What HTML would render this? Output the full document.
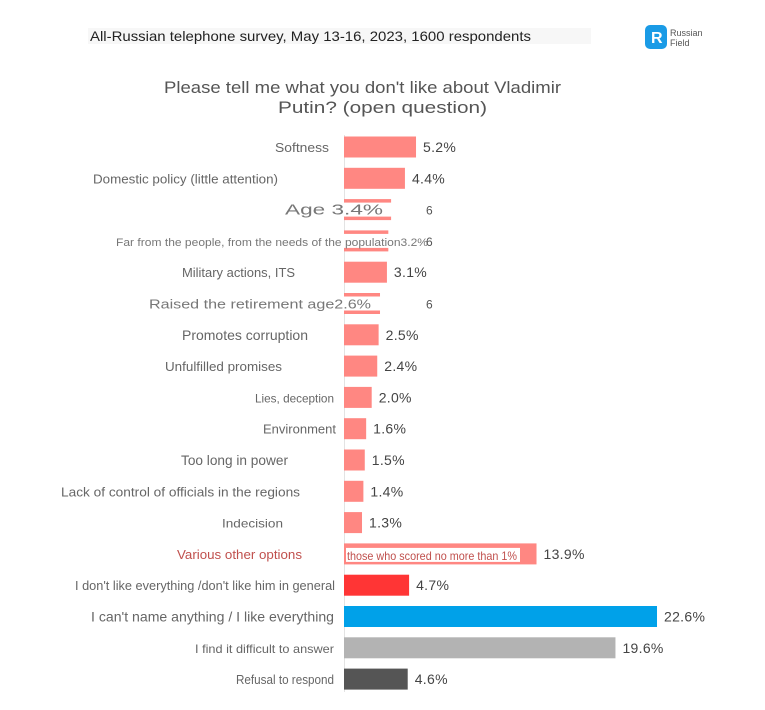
<!DOCTYPE html>
<html><head><meta charset="utf-8"><style>
body{margin:0;background:#fff;font-family:"Liberation Sans",sans-serif}
svg{display:block}
</style></head><body>
<svg id="c" width="765" height="710" font-family="Liberation Sans, sans-serif">
<rect x="88" y="28" width="503" height="16" fill="#f7f7f7"/>
<text x="90" y="41" font-size="14" textLength="441" lengthAdjust="spacingAndGlyphs" fill="#222">All-Russian telephone survey, May 13-16, 2023, 1600 respondents</text>
<g>
<rect x="645" y="25" width="22" height="24" rx="5" fill="#1a9be6"/>
<text x="651" y="43" font-size="16" font-weight="bold" fill="#fff">R</text>
<text x="670" y="36" font-size="9" fill="#555">Russian</text>
<text x="670" y="46" font-size="9" fill="#555">Field</text>
</g>
<text x="164" y="93" font-size="17" textLength="397" lengthAdjust="spacingAndGlyphs" fill="#555">Please tell me what you don't like about Vladimir</text>
<text x="278" y="113" font-size="17" textLength="209" lengthAdjust="spacingAndGlyphs" fill="#555">Putin? (open question)</text>
<line x1="344.5" y1="135" x2="344.5" y2="692" stroke="#e3e3e3"/>
<g id="bars"></g>
</svg>
<script>
const categories=["Softness","Domestic policy (little attention)","Age","Far from the people, from the needs of the population","Military actions, ITS","Raised the retirement age","Promotes corruption","Unfulfilled promises","Lies, deception","Environment","Too long in power","Lack of control of officials in the regions","Indecision","Various other options","I don't like everything /don't like him in general","I can't name anything / I like everything","I find it difficult to answer","Refusal to respond"];
const values=[5.2,4.4,3.4,3.2,3.1,2.6,2.5,2.4,2.0,1.6,1.5,1.4,1.3,13.9,4.7,22.6,19.6,4.6];
const colors=["#ff8782","#ff8782","#ff8782","#ff8782","#ff8782","#ff8782","#ff8782","#ff8782","#ff8782","#ff8782","#ff8782","#ff8782","#ff8782","#ff8782","#ff3535","#00a1e9","#b3b3b3","#555555"];
// label layout (start x, end x) — positions only
const labelStart=[275,93,285,116,182,149,182,165,255,263,181,61,222,177,75,91,195,236];
const labelEnd=[329,278,383,428,295,371,308,282,334,336,288,300,283,302,335,334,334,334];
const x0=344, pxPer=13.85, y0=147, step=31.3, bh=21;
const xs=v=>x0+v*pxPer, ys=i=>y0+i*step;
const g=document.getElementById('bars');
const NS="http://www.w3.org/2000/svg";
function mk(t,a){const e=document.createElementNS(NS,t);for(const k in a)e.setAttribute(k,a[k]);g.appendChild(e);return e;}
const special={2:1,3:1,5:1};
categories.forEach((c,i)=>{
  const y=ys(i), v=values[i];
  const r=mk('rect',{x:x0,y:y-bh/2,width:xs(v)-x0,height:bh,fill:colors[i]});
  
  
  const lx=labelStart[i], lw=labelEnd[i]-labelStart[i];
  if(special[i]){
    const w=mk('rect',{x:x0,y:y-7,width:xs(v)-x0+2,height:14,fill:'#fff'});
    
    
    let fs=i==2?15:(i==3?11:13);
    const t=mk('text',{x:lx,y:y+5,'font-size':fs,fill:'#777',textLength:lw,lengthAdjust:'spacingAndGlyphs'});
    t.textContent=c+(i==2?' ':'')+v.toFixed(1)+'%';
    
    
    const s=mk('text',{x:426,y:y+5,'font-size':12,fill:'#555'});
    s.textContent='6';
    
    
    return;
  }
  const isOther=i==13;
  const fsz=(i==15||i==6||i==10)?14:(i==8||i==12||i==16?12:13);
  const t=mk('text',{x:lx,y:y+5,'font-size':fsz,fill:isOther?'#c0504d':'#666',textLength:lw,lengthAdjust:'spacingAndGlyphs'});
  t.textContent=c;
  
  
  if(isOther){
    const w=mk('rect',{x:x0+2,y:y-6,width:174,height:14,fill:'#fff'});
    
    
    const n=mk('text',{x:x0+3,y:y+6,'font-size':12,fill:'#c0504d',textLength:170,lengthAdjust:'spacingAndGlyphs'});
    n.textContent='those who scored no more than 1%';
    
    
  }
  const vl=mk('text',{x:xs(v)+7,y:y+5,'font-size':14,fill:'#444','letter-spacing':0.3});
  vl.textContent=v.toFixed(1)+'%';
  
  
});
</script>
</body></html>
